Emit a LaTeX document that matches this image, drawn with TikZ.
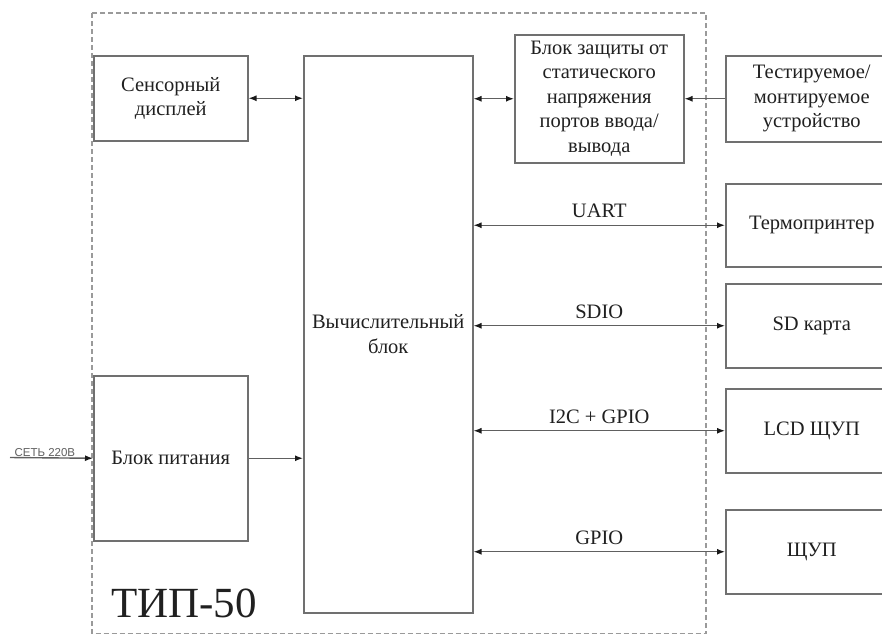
\documentclass[tikz,border=0pt]{standalone}
\usepackage{fontspec}
\setmainfont{Liberation Serif}
\newfontfamily\lsans{Liberation Sans}
\usetikzlibrary{arrows.meta}
\definecolor{boxgray}{HTML}{707070}
\definecolor{linegray}{HTML}{606060}
\definecolor{tipcol}{HTML}{1A1A1A}
\definecolor{framegray}{HTML}{9A9A9A}
\definecolor{txt}{HTML}{202020}
\begin{document}
\begin{tikzpicture}[x=1pt,y=-1pt,
 box/.style={draw=boxgray, line width=1.5pt, inner sep=0pt, align=center, anchor=north west,
   font=\fontsize{20.5}{24.5}\selectfont, text=txt},
 conn/.style={draw=linegray, line width=1.4pt},
 both/.style={conn, {Latex[length=8pt,width=6pt,color=tipcol]}-{Latex[length=8pt,width=6pt,color=tipcol]}},
 one/.style={conn, -{Latex[length=8pt,width=6pt,color=tipcol]}},
 lbl/.style={font=\fontsize{20.5}{24}\selectfont, text=txt, inner sep=0pt, above=6.5pt}
]
\useasboundingbox (0,0) rectangle (882,635);
\clip (0,0) rectangle (882,635);
\fill[white] (0,0) rectangle (882,635);

% dashed frame
\draw[draw=framegray, line width=1.1pt, dash pattern=on 5pt off 3pt] (92,13) rectangle (706,633.5);

% blocks
\node[box, minimum width=154pt, minimum height=85pt] (disp) at (93,55) {Сенсорный\\дисплей};
\node[box, minimum width=169pt, minimum height=557pt] (cpu) at (303,55) {Вычислительный\\блок};
\node[box, minimum width=169pt, minimum height=128pt] (prot) at (514,34) {Блок защиты от\\статического\\напряжения\\портов ввода/\\вывода};
\node[box, minimum width=172pt, minimum height=86pt] (dut) at (725,55) {Тестируемое/\\монтируемое\\устройство};
\node[box, minimum width=172pt, minimum height=83pt] (prn) at (725,183) {Термопринтер};
\node[box, minimum width=172pt, minimum height=84pt] (sd) at (725,283) {SD карта};
\node[box, minimum width=172pt, minimum height=84pt] (lcd) at (725,388) {LCD ЩУП};
\node[box, minimum width=172pt, minimum height=84pt] (probe) at (725,509) {ЩУП};
\node[box, minimum width=154pt, minimum height=165pt] (psu) at (93,375) {Блок питания};
\node[font=\fontsize{43}{43}\selectfont, text=txt, inner sep=0pt] (title) at (184,603) {ТИП-50};
\coordinate (mains) at (10,457.5);

% connectors
\draw[both] (disp.east) -- (disp.east -| cpu.west);
\draw[both] (prot.west -| cpu.east) -- (prot.west);
\draw[one] (dut.west) -- (dut.west -| prot.east);
\draw[both] (prn.west -| cpu.east) -- (prn.west) node[lbl, midway] {UART};
\draw[both] (sd.west -| cpu.east) -- (sd.west) node[lbl, midway] {SDIO};
\draw[both] (lcd.west -| cpu.east) -- (lcd.west) node[lbl, midway] {I2C + GPIO};
\draw[both] (probe.west -| cpu.east) -- (probe.west) node[lbl, midway] {GPIO};
\draw[one] (mains) -- (psu.west) node[pos=0.42, above=1pt, inner sep=0pt, font=\lsans\fontsize{11.5}{11.5}\selectfont, text=linegray] {СЕТЬ 220В};
\draw[one] (psu.east) -- (psu.east -| cpu.west);
\end{tikzpicture}
\end{document}
